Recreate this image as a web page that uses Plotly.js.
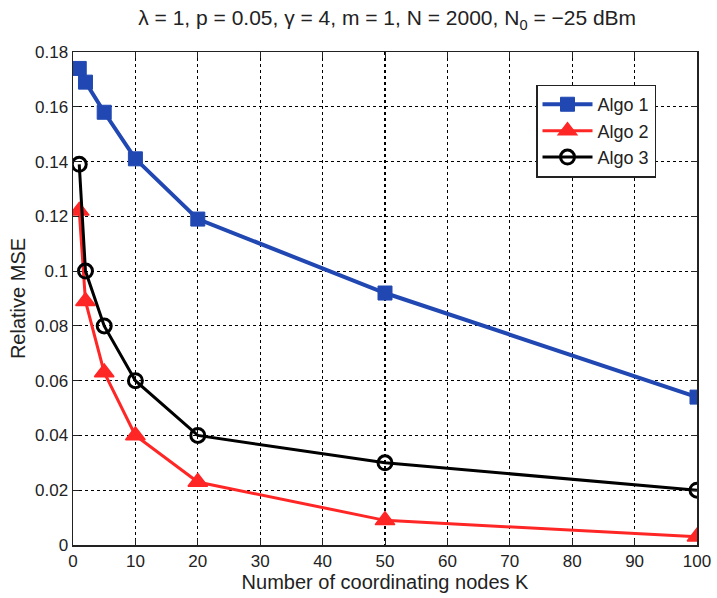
<!DOCTYPE html>
<html><head><meta charset="utf-8">
<script src="https://cdn.plot.ly/plotly-3.0.1.min.js"></script>
<style>html,body{margin:0;padding:0;background:#fff}#chart{width:717px;height:598px}</style>
</head><body><div id="chart"></div>
<script>
var K = [1, 2, 5, 10, 20, 50, 100];
var algo1 = [0.174, 0.169, 0.158, 0.141, 0.119, 0.092, 0.054];
var algo2 = [0.122, 0.089, 0.063, 0.040, 0.023, 0.009, 0.003];
var algo3 = [0.139, 0.100, 0.080, 0.060, 0.040, 0.030, 0.020];
var names = ['Algo 1', 'Algo 2', 'Algo 3'];
var xTicks = [0,10,20,30,40,50,60,70,80,90,100];
var yTicks = [0,0.02,0.04,0.06,0.08,0.1,0.12,0.14,0.16,0.18];
var yTickText = ['0','0.02','0.04','0.06','0.08','0.1','0.12','0.14','0.16','0.18'];

var fam = 'Liberation Sans, Arial, sans-serif';
var tickFont = {family: fam, size: 17, color: '#222'};
var traces = [
  {x: K, y: algo1, name: names[0], mode: 'lines+markers',
   line: {color: '#2148b2', width: 4},
   marker: {symbol: 'square', size: 14, color: '#2148b2', line: {color: '#2148b2', width: 1}}},
  {x: K, y: algo2, name: names[1], mode: 'lines+markers',
   line: {color: '#ff2626', width: 3},
   marker: {symbol: 'triangle-up', size: 17, color: '#ff2626', line: {color: '#ff2626', width: 1.5}}},
  {x: K, y: algo3, name: names[2], mode: 'lines+markers',
   line: {color: '#000', width: 3},
   marker: {symbol: 'circle-open', size: 14, color: '#000', line: {color: '#000', width: 3}}}
];
var axisCommon = {
  showline: true, linecolor: '#222', linewidth: 1.5, mirror: 'ticks',
  ticks: 'inside', ticklen: 6, tickcolor: '#222',
  showgrid: true, gridcolor: '#000', griddash: 'dot', gridwidth: 1.2,
  zeroline: false, tickfont: tickFont
};
var layout = {
  width: 717, height: 598,
  margin: {l: 73, r: 20, t: 52, b: 53},
  paper_bgcolor: '#fff', plot_bgcolor: '#fff',
  font: tickFont,
  title: {text: 'λ = 1, p = 0.05, γ = 4, m = 1, N = 2000, N<sub>0</sub> = −25 dBm',
          font: {family: fam, size: 21, color: '#222'},
          x: 0.54, xanchor: 'center', y: 0.982, yanchor: 'top'},
  xaxis: Object.assign({}, axisCommon, {range: [0, 100], tickvals: xTicks,
    title: {text: 'Number of coordinating nodes K', font: {family: fam, size: 20, color: '#222'}, standoff: 0}}),
  yaxis: Object.assign({}, axisCommon, {range: [0, 0.18], tickvals: yTicks, ticktext: yTickText,
    title: {text: 'Relative MSE', font: {family: fam, size: 20, color: '#222'}, standoff: 4}}),
  legend: {x: 0.742, y: 0.934, xanchor: 'left', yanchor: 'top',
    bgcolor: '#fff', bordercolor: '#222', borderwidth: 1.5,
    font: {family: fam, size: 18, color: '#222'},
    tracegroupgap: 0, itemwidth: 50},
  showlegend: true
};
Plotly.newPlot('chart', traces, layout, {displayModeBar: false, staticPlot: true});
</script></body></html>
